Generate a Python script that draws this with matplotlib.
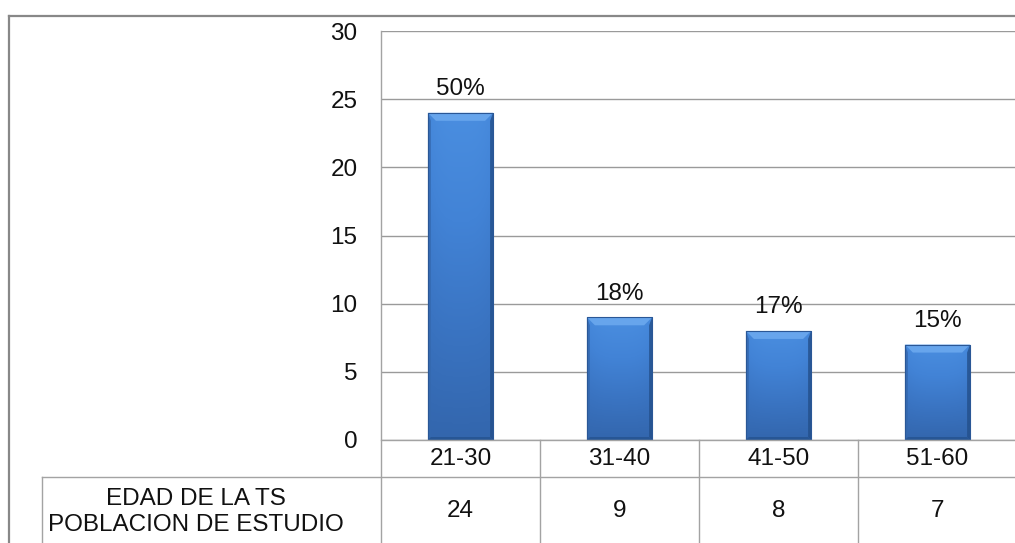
import matplotlib
matplotlib.use('Agg')
import matplotlib.pyplot as plt
import matplotlib.transforms as mtransforms
from matplotlib.lines import Line2D
from matplotlib.patches import Polygon
import numpy as np

plt.rcParams['font.family'] = ['Liberation Sans', 'DejaVu Sans']

# data
age_groups = ['21-30', '31-40', '41-50', '51-60']
counts = [24, 9, 8, 7]
pct_labels = ['50%', '18%', '17%', '15%']
row_header = 'EDAD DE LA TS\nPOBLACION DE ESTUDIO'

W, H = 1015, 543
fx = lambda px: px / W
fy = lambda py: 1 - py / H
FS = 17.5
TXT = '#111111'

fig = plt.figure(figsize=(W / 100, H / 100), dpi=100)
fig.patch.set_facecolor('white')

ax = fig.add_axes([fx(381), fy(440), fx(1017) - fx(381), fy(31) - fy(440)])
ax.set_xlim(-0.5, len(age_groups) - 0.5)
ax.set_ylim(0, 30)
ax.set_yticks(range(0, 31, 5))
ax.set_xticks([])
for s in ax.spines.values():
    s.set_visible(False)
ax.tick_params(axis='y', length=0, pad=17, labelsize=FS, colors=TXT)
ax.yaxis.grid(True, color='#9a9a9a', linewidth=1.0)
ax.set_axisbelow(True)

grid_col = '#a3a3a3'
# left edge of plot area running down into the table
fig.add_artist(Line2D([fx(381), fx(381)], [fy(31), fy(543)], color=grid_col, lw=1.0))

# bars: vertical gradient face plus bevelled edges
bar_w = 0.41
px_x = 1.0 / 159    # one pixel in data units
px_y = 1.0 / 13.63
cmap = matplotlib.colors.LinearSegmentedColormap.from_list(
    'face', ['#3366ad', '#3a74c2', '#4283d6', '#4a8ee0'])
gy = np.linspace(0, 1, 256)
gx = 1 - 0.2 * np.abs(np.linspace(-1, 1, 64)) ** 3
grad = gy[:, None] * gx[None, :]
xs = np.arange(len(age_groups))
bars = ax.bar(xs, counts, width=bar_w, color='#3a78c8', edgecolor='none', zorder=2)
for b, v in zip(bars, counts):
    x0, x1 = b.get_x(), b.get_x() + b.get_width()
    im = ax.imshow(grad, extent=[x0, x1, 0, v], origin='lower', aspect='auto',
                   cmap=cmap, vmin=0, vmax=1, zorder=3)
    im.set_clip_path(b)
    tx, ty = 8 * px_x, 8 * px_y
    sx, sy = 3 * px_x, 3 * px_y
    # top bevel
    ax.add_patch(Polygon([[x0, v], [x1, v], [x1 - tx, v - ty], [x0 + tx, v - ty]],
                         closed=True, facecolor='#67a5ec', edgecolor='none', zorder=4))
    # sides and bottom
    ax.add_patch(Polygon([[x0, v], [x0 + sx, v - ty], [x0 + sx, sy], [x0, 0]],
                         closed=True, facecolor='#3468ae', edgecolor='none', alpha=0.8, zorder=4))
    ax.add_patch(Polygon([[x1, v], [x1 - sx, v - ty], [x1 - sx, sy], [x1, 0]],
                         closed=True, facecolor='#234f8a', edgecolor='none', alpha=0.8, zorder=4))
    ax.add_patch(Polygon([[x0, 0], [x1, 0], [x1 - sx, sy], [x0 + sx, sy]],
                         closed=True, facecolor='#25528f', edgecolor='none', alpha=0.8, zorder=4))
    ax.add_patch(Polygon([[x0, v], [x1, v], [x1, 0], [x0, 0]],
                         closed=True, facecolor='none', edgecolor='#2a5796', lw=0.8, zorder=5))

for x, v, lab in zip(xs, counts, pct_labels):
    ax.annotate(lab, (x, v), xytext=(0, 9), textcoords='offset points',
                ha='center', va='bottom', fontsize=FS, color=TXT)

# data table under the axis
tr = mtransforms.blended_transform_factory(ax.transData, fig.transFigure)
fig.add_artist(Line2D([fx(381), 1], [fy(440), fy(440)], color=grid_col, lw=1.0))
fig.add_artist(Line2D([fx(42), 1], [fy(477), fy(477)], color=grid_col, lw=1.0))
fig.add_artist(Line2D([fx(42), fx(42)], [fy(477), fy(543)], color=grid_col, lw=1.0))
for i in range(1, len(age_groups)):
    fig.add_artist(Line2D([i - 0.5, i - 0.5], [fy(440), fy(543)], color=grid_col,
                          lw=1.0, transform=tr))
for x, cat, v in zip(xs, age_groups, counts):
    fig.text(x, fy(459), cat, transform=tr, ha='center', va='center',
             fontsize=FS, color=TXT)
    fig.text(x, fy(511), str(v), transform=tr, ha='center', va='center',
             fontsize=FS, color=TXT)
fig.text(fx(196), fy(512), row_header, ha='center', va='center', fontsize=FS,
         color=TXT, linespacing=1.25)

# outer chart frame
fig.add_artist(Line2D([fx(9), 1], [fy(15.5), fy(15.5)], color='#888888', lw=1.6))
fig.add_artist(Line2D([fx(9), fx(9)], [fy(15.5), 0], color='#888888', lw=1.6))

fig.savefig('out.png', dpi=100, facecolor='white')
